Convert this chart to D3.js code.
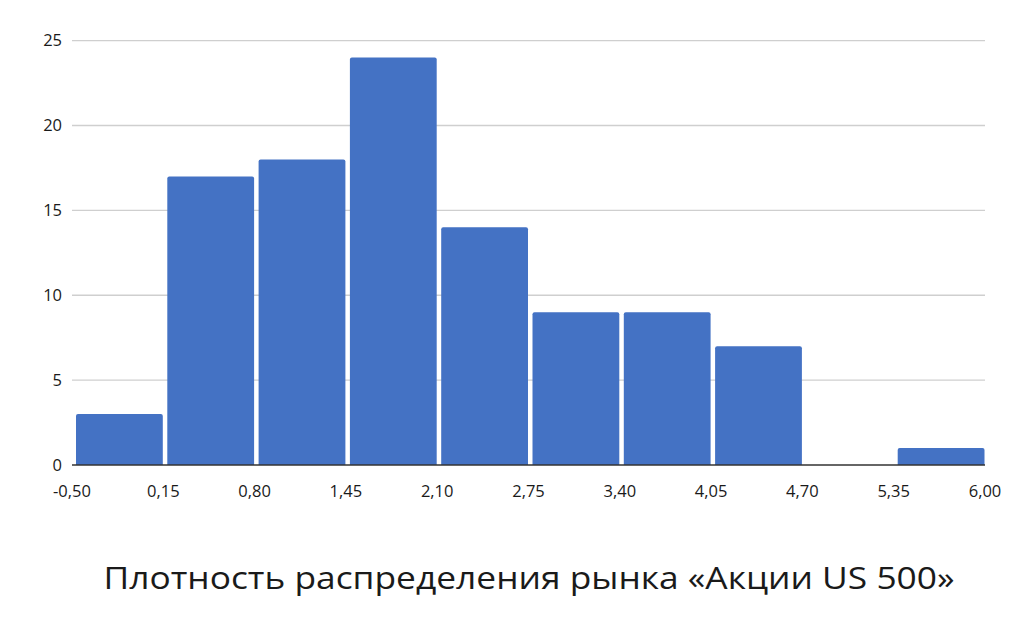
<!DOCTYPE html>
<html>
<head>
<meta charset="utf-8">
<script src="https://cdn.jsdelivr.net/npm/d3@7"></script>
<style>
  body { margin: 0; background: #fff; }
  text { font-family: "Open Sans", sans-serif; fill: #1a1a1a; }
</style>
</head>
<body>
<div id="chart"></div>
<script>
const width = 1017;
const height = 629;

// bin edges and counts
const binEdges = [-0.50, 0.15, 0.80, 1.45, 2.10, 2.75, 3.40, 4.05, 4.70, 5.35, 6.00];
const counts = [3, 17, 18, 24, 14, 9, 9, 7, 0, 1];
const yTicks = [0, 5, 10, 15, 20, 25];
const title = "Плотность распределения рынка «Акции US 500»";

const bins = counts.map((c, i) => ({x0: binEdges[i], x1: binEdges[i + 1], count: c}));

const svg = d3.select("#chart").append("svg")
  .attr("width", width)
  .attr("height", height);

const x = d3.scaleLinear().domain([-0.5, 6.0]).range([72, 985]);
const y = d3.scaleLinear().domain([0, 25]).range([465, 40.6]);

// gridlines
svg.append("g")
  .selectAll("line")
  .data(yTicks.filter(t => t > 0))
  .join("line")
  .attr("x1", x(-0.5))
  .attr("x2", x(6.0))
  .attr("y1", d => y(d))
  .attr("y2", d => y(d))
  .attr("stroke", "#cfcfcf")
  .attr("stroke-width", 1.3);

// y labels
svg.append("g")
  .selectAll("text")
  .data(yTicks)
  .join("text")
  .attr("x", 62)
  .attr("y", d => y(d))
  .attr("dy", "0.35em")
  .attr("text-anchor", "end")
  .style("font-size", "16.5px")
  .text(d => d);

// bars with slightly rounded tops
const r = 2;
svg.append("g")
  .selectAll("path")
  .data(bins.filter(b => b.count > 0))
  .join("path")
  .attr("fill", "#4472c4")
  .attr("d", b => {
    const x0 = x(b.x0) + 4, x1 = x(b.x1) - 0.5;
    const y0 = y(0), y1 = y(b.count);
    return `M${x0},${y0} V${y1 + r} Q${x0},${y1} ${x0 + r},${y1} H${x1 - r} Q${x1},${y1} ${x1},${y1 + r} V${y0} Z`;
  });

// baseline
svg.append("line")
  .attr("x1", x(-0.5))
  .attr("x2", x(6.0))
  .attr("y1", y(0))
  .attr("y2", y(0))
  .attr("stroke", "#333")
  .attr("stroke-width", 1.5);

// x labels
const fmt = d3.format(".2f");
svg.append("g")
  .selectAll("text")
  .data(binEdges)
  .join("text")
  .attr("x", d => x(d))
  .attr("y", 497)
  .attr("text-anchor", "middle")
  .style("font-size", "16.5px")
  .text(d => fmt(d).replace("−", "-").replace(".", ","));

// title
svg.append("text")
  .attr("x", 529)
  .attr("y", 589)
  .attr("text-anchor", "middle")
  .style("font-size", "31px")
  .attr("textLength", 851)
  .attr("lengthAdjust", "spacingAndGlyphs")
  .text(title);
</script>
</body>
</html>
